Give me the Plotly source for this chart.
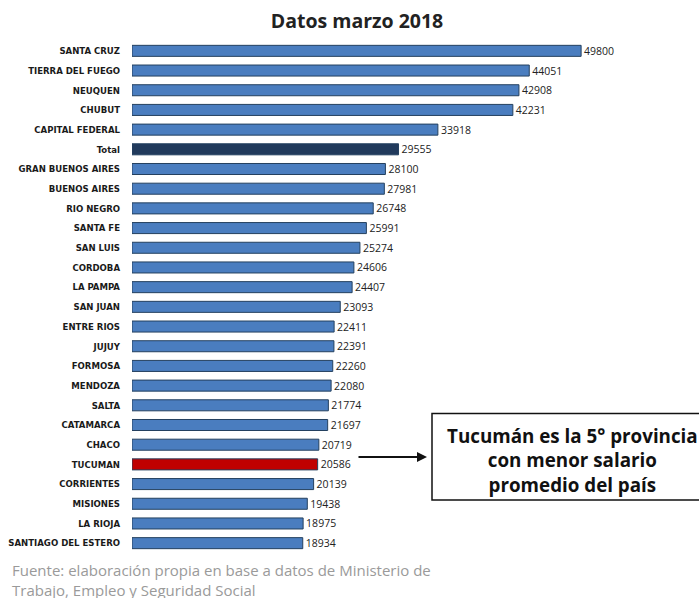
import plotly.graph_objects as go

provinces = ["SANTA CRUZ", "TIERRA DEL FUEGO", "NEUQUEN", "CHUBUT", "CAPITAL FEDERAL",
             "Total", "GRAN BUENOS AIRES", "BUENOS AIRES", "RIO NEGRO", "SANTA FE",
             "SAN LUIS", "CORDOBA", "LA PAMPA", "SAN JUAN", "ENTRE RIOS", "JUJUY",
             "FORMOSA", "MENDOZA", "SALTA", "CATAMARCA", "CHACO", "TUCUMAN",
             "CORRIENTES", "MISIONES", "LA RIOJA", "SANTIAGO DEL ESTERO"]
salaries = [49800, 44051, 42908, 42231, 33918, 29555, 28100, 27981, 26748, 25991,
            25274, 24606, 24407, 23093, 22411, 22391, 22260, 22080, 21774, 21697,
            20719, 20586, 20139, 19438, 18975, 18934]

BLUE = "#4a7dbf"
NAVY = "#213a5c"
RED = "#c00000"
colors = [NAVY if p == "Total" else RED if p == "TUCUMAN" else BLUE for p in provinces]

fig = go.Figure()
fig.add_trace(go.Bar(
    x=salaries, y=provinces, orientation="h",
    marker=dict(color=colors, line=dict(color="#24405f", width=1)),
    text=[str(v) for v in salaries], textposition="outside",
    textfont=dict(family="Open Sans", size=10.5, color="#222222"),
    constraintext="none", cliponaxis=False, width=0.56,
))

fig.update_layout(
    width=699, height=598,
    margin=dict(l=132, r=71, t=41, b=45, autoexpand=False),
    paper_bgcolor="white", plot_bgcolor="white",
    showlegend=False,
    title=dict(text="<b>Datos marzo 2018</b>", x=357 / 699, xanchor="center",
               y=1 - 21 / 598, yanchor="middle",
               font=dict(family="Open Sans", size=19.5, color="#222222")),
    xaxis=dict(range=[0, 55000], visible=False),
    yaxis=dict(autorange="reversed", tickmode="array", tickvals=provinces,
               ticktext=["<b>%s</b>" % p for p in provinces],
               tickfont=dict(family="DejaVu Sans Condensed", size=9.5, color="#1a1a1a"),
               showline=False, showgrid=False, ticks="", ticklabelstandoff=11,
               automargin=False),
    font=dict(family="Open Sans"),
)

# annotation box and arrow
fig.add_shape(type="rect", xref="paper", yref="paper",
              x0=(432 - 132) / 496, x1=(700 - 132) / 496,
              y0=(553 - 500) / 512, y1=(553 - 413.5) / 512,
              line=dict(color="#111111", width=1.5), fillcolor="white")
fig.add_annotation(xref="paper", yref="paper",
                   x=(572 - 132) / 496, y=(553 - 460) / 512,
                   text="<b>Tucumán es la 5° provincia<br>con menor salario<br>promedio del país</b>",
                   showarrow=False, align="center", xanchor="center", yanchor="middle",
                   font=dict(family="Open Sans", size=18.8, color="#111111"))
fig.add_annotation(xref="paper", yref="paper",
                   x=(427 - 132) / 496, y=(553 - 457) / 512,
                   ax=-70, ay=0,
                   showarrow=True, arrowhead=2, arrowsize=1, arrowwidth=2,
                   arrowcolor="#111111", text="")

fig.add_annotation(xref="paper", yref="paper", x=(10 - 132) / 496, y=(553 - 580) / 512,
                   xanchor="left", yanchor="middle", showarrow=False, align="left",
                   text="Fuente: elaboración propia en base a datos de Ministerio de<br>Trabajo, Empleo y Seguridad Social",
                   font=dict(family="Open Sans", size=15, color="#9a9a9a"))

fig.write_html("out.html", config={"displayModeBar": False},
               post_script="document.body.style.margin='0px';document.body.style.overflow='hidden';")
